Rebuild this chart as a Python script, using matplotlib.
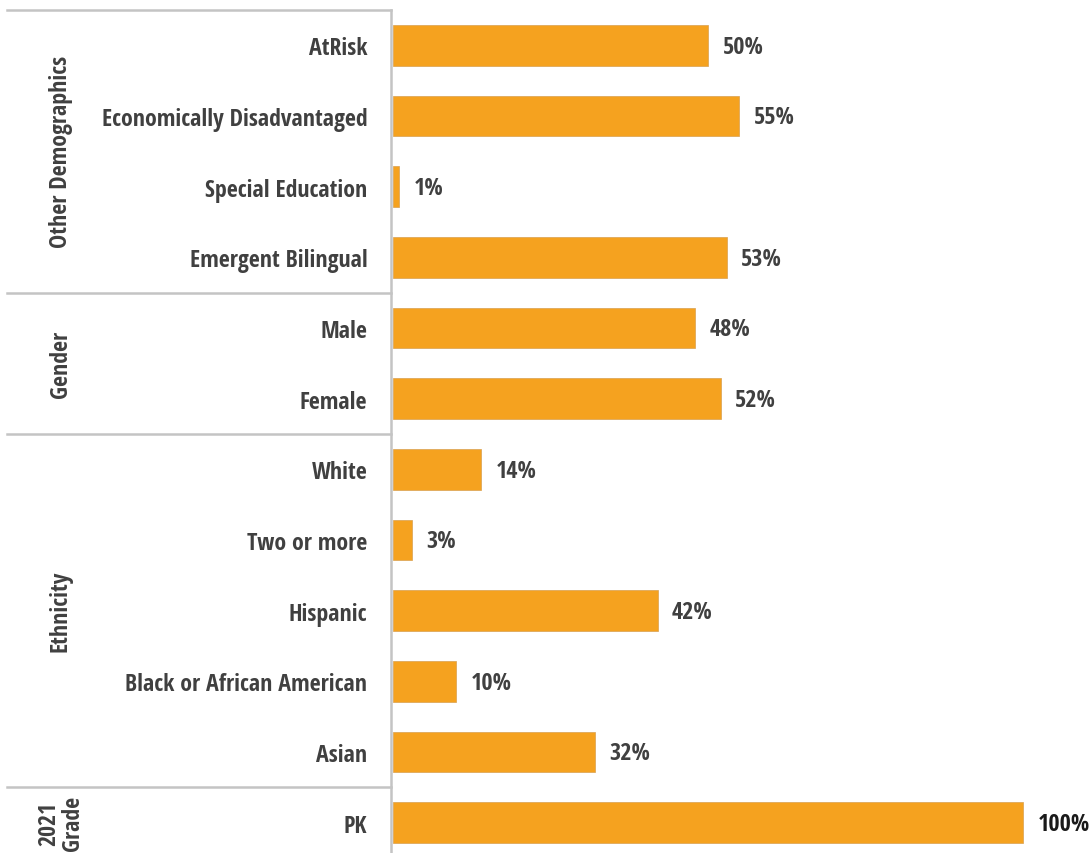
import matplotlib
matplotlib.use("Agg")
import matplotlib.pyplot as plt
import matplotlib.transforms as mtransforms
from matplotlib.lines import Line2D

# data, top to bottom
groups = ["Other Demographics", "Gender", "Ethnicity", "2021\nGrade"]
group_sizes = [4, 2, 5, 1]
categories = ["AtRisk", "Economically Disadvantaged", "Special Education", "Emergent Bilingual",
              "Male", "Female",
              "White", "Two or more", "Hispanic", "Black or African American", "Asian",
              "PK"]
values = [50, 55, 1, 53, 48, 52, 14, 3, 42, 10, 32, 100]

plt.rcParams['font.family'] = ['Open Sans Condensed', 'Fira Sans Condensed', 'DejaVu Sans']

bar_color = '#F5A21F'
text_color = '#404040'
line_color = '#C4C4C4'

fig = plt.figure(figsize=(10.89, 8.54), dpi=100)
ax = fig.add_axes([393 / 1089, 1 - 859 / 854, 696 / 1089, 848 / 854])

ypos = list(range(len(categories)))
ax.barh(ypos, values, height=0.58, color=bar_color, edgecolor='#D9A050', linewidth=0.5)
ax.set_ylim(len(categories) - 0.5, -0.5)
ax.set_xlim(0, 110.5)

for y, v in zip(ypos, values):
    col = '#1a1a1a' if v == 100 else text_color
    ax.text(v + 2.3, y + 0.02, f"{v}%", va='center', ha='left', fontsize=17.5,
            fontweight='bold', color=col)

ax.set_yticks(ypos)
ax.set_yticklabels(categories, fontsize=17.2, fontweight='bold', color=text_color)
ax.tick_params(axis='y', length=0, pad=18.5)
ax.set_xticks([])
for s in ax.spines.values():
    s.set_visible(False)

# group header panel
trans = mtransforms.blended_transform_factory(fig.transFigure, ax.transData)
x_left = 7 / 1089
x_right = 391 / 1089
start = 0
for name, n in zip(groups, group_sizes):
    top = start - 0.5
    fig.add_artist(Line2D([x_left, x_right], [top, top], transform=trans,
                          color=line_color, linewidth=1.8))
    mid = start + (n - 1) / 2
    fig.text(61 / 1089, mid, name, transform=trans, rotation=90, ha='center',
             va='center', fontsize=17.2, fontweight='bold', color=text_color,
             linespacing=0.95)
    start += n
fig.add_artist(Line2D([x_right, x_right], [-0.5, len(categories) - 0.5], transform=trans,
                      color=line_color, linewidth=1.8))

fig.savefig("out.png", dpi=100, facecolor='white')
